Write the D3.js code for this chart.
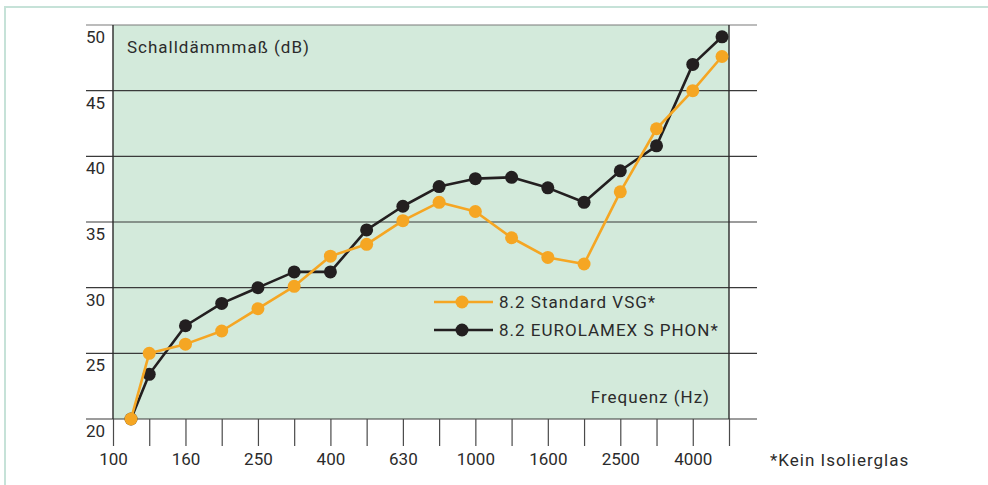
<!DOCTYPE html>
<html>
<head>
<meta charset="utf-8">
<script src="https://cdn.jsdelivr.net/npm/d3@7"></script>
<style>
  body { margin: 0; background: #fff; }
  svg { display: block; font-family: Roboto, "DejaVu Sans", sans-serif; }
  .lbl { fill: #2b2b2b; font-size: 17px; }
  .wide { letter-spacing: 1px; }
</style>
</head>
<body>
<svg id="chart"></svg>
<script>
// third-octave bands (Hz)
var freqs = [100, 125, 160, 200, 250, 315, 400, 500, 630, 800, 1000, 1250, 1600, 2000, 2500, 3150, 4000, 5000];
var freqLabels = [100, 160, 250, 400, 630, 1000, 1600, 2500, 4000];
var yTicks = [20, 25, 30, 35, 40, 45, 50];

var standardVSG = [20.0, 25.0, 25.7, 26.7, 28.4, 30.1, 32.4, 33.3, 35.1, 36.5, 35.8, 33.8, 32.3, 31.8, 37.3, 42.1, 45.0, 47.6];
var eurolamex   = [20.0, 23.4, 27.1, 28.8, 30.0, 31.2, 31.2, 34.4, 36.2, 37.7, 38.3, 38.4, 37.6, 36.5, 38.9, 40.8, 47.0, 49.1];

var seriesNames = ["8.2 Standard VSG*", "8.2 EUROLAMEX S PHON*"];
var seriesColors = ["#f5a623", "#231f20"];

var W = 988, H = 485;
var margin = {top: 25, right: 259, bottom: 66, left: 113},
    width = W - margin.left - margin.right,
    height = H - margin.top - margin.bottom;

var svg = d3.select("#chart").attr("width", W).attr("height", H);

// outer frame (light teal)
svg.append("path")
    .attr("d", "M5," + H + "V7H" + W)
    .attr("fill", "none")
    .attr("stroke", "#c6e2d8")
    .attr("stroke-width", 2);

var g = svg.append("g")
    .attr("transform", "translate(" + margin.left + "," + margin.top + ")");

var x = d3.scalePoint().domain(freqs).range([0, width]);
var y = d3.scaleLinear().domain([20, 50]).range([height, 0]);

// plot background
g.append("rect")
    .attr("width", width)
    .attr("height", height)
    .attr("fill", "#d3eadb");

// horizontal grid lines, extend outside the plot
g.selectAll(".grid")
    .data(yTicks)
    .enter()
    .append("line")
    .attr("x1", -27)
    .attr("x2", width + 28)
    .attr("y1", function(d) { return y(d); })
    .attr("y2", function(d) { return y(d); })
    .attr("stroke", function(d) { return d === 50 ? "#7a7a7a" : "#3a3a3a"; })
    .attr("stroke-width", 1.2);

// y labels sit just under each grid line
g.selectAll(".ylab")
    .data(yTicks)
    .enter()
    .append("text")
    .attr("class", "lbl")
    .attr("x", -27)
    .attr("y", function(d) { return y(d) + 18; })
    .text(function(d) { return d; });

// x axis: ticks at every band, labels every other band
var xAxis = g.append("g")
    .attr("transform", "translate(0," + height + ")")
    .call(d3.axisBottom(x)
        .tickSize(27)
        .tickPadding(7)
        .tickFormat(function(d) { return freqLabels.indexOf(d) >= 0 ? d : ""; }));
xAxis.select(".domain").remove();
xAxis.selectAll("line").attr("stroke", "#4a4a4a").attr("stroke-width", 1.2);
xAxis.selectAll("text")
    .attr("class", "lbl")
    .attr("fill", null)
    .style("font-size", "17px")
    .style("font-family", "Roboto, 'DejaVu Sans', sans-serif");

// plot side borders
g.selectAll(".border")
    .data([0, width])
    .enter()
    .append("line")
    .attr("x1", function(d) { return d; })
    .attr("x2", function(d) { return d; })
    .attr("y1", 0)
    .attr("y2", height)
    .attr("stroke", "#2a2a2a")
    .attr("stroke-width", 1.4);

// end points are drawn a bit inside the frame
function px(f) {
    return Math.max(18, Math.min(width - 7, x(f)));
}

[eurolamex, standardVSG].forEach(function(vals, k) {
    var i = k === 0 ? 1 : 0;
    var pts = freqs.map(function(f, j) { return [f, vals[j]]; });
    var line = d3.line()
        .x(function(d) { return px(d[0]); })
        .y(function(d) { return y(d[1]); });
    g.append("path")
        .datum(pts)
        .attr("d", line)
        .attr("fill", "none")
        .attr("stroke", seriesColors[i])
        .attr("stroke-width", 2.6)
        .attr("stroke-linejoin", "round");
    g.selectAll(".pt" + i)
        .data(pts)
        .enter()
        .append("circle")
        .attr("cx", function(d) { return px(d[0]); })
        .attr("cy", function(d) { return y(d[1]); })
        .attr("r", 6.5)
        .attr("fill", seriesColors[i]);
});

// axis titles
g.append("text")
    .attr("class", "lbl wide")
    .attr("x", 14)
    .attr("y", 28)
    .text("Schalldämmmaß (dB)");

g.append("text")
    .attr("class", "lbl wide")
    .attr("text-anchor", "end")
    .attr("x", width - 19)
    .attr("y", height - 16)
    .text("Frequenz (Hz)");

// legend
var legend = g.append("g").attr("transform", "translate(321,277)");
seriesNames.forEach(function(name, i) {
    var row = legend.append("g").attr("transform", "translate(0," + (i * 28) + ")");
    row.append("line")
        .attr("x1", 0).attr("x2", 59)
        .attr("stroke", seriesColors[i])
        .attr("stroke-width", 2.6);
    row.append("circle")
        .attr("cx", 28).attr("r", 6.5)
        .attr("fill", seriesColors[i]);
    row.append("text")
        .attr("class", "lbl wide")
        .attr("x", 65)
        .attr("dy", "0.35em")
        .text(name);
});

// footnote
svg.append("text")
    .attr("class", "lbl wide")
    .attr("x", 770)
    .attr("y", 466)
    .text("*Kein Isolierglas");
</script>
</body>
</html>
